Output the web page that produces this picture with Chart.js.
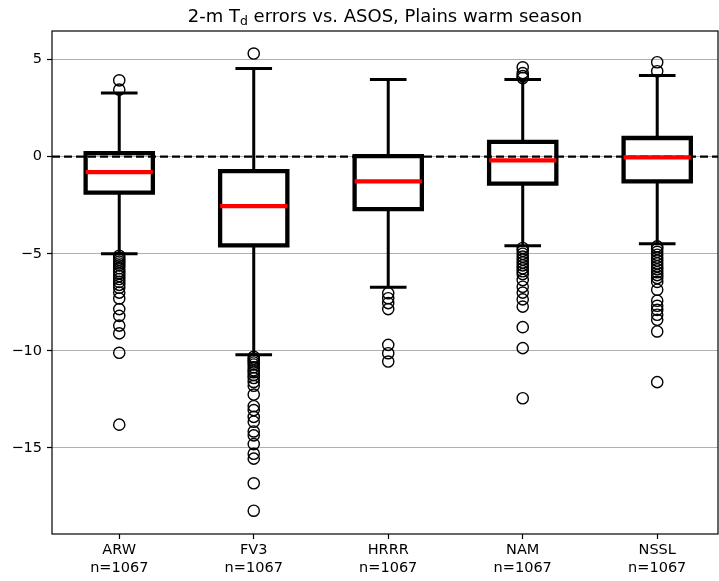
<!DOCTYPE html>
<html>
<head>
<meta charset="utf-8">
<script src="https://cdn.jsdelivr.net/npm/chart.js@4/dist/chart.umd.min.js"></script>
<style>
  html, body { margin: 0; padding: 0; background: #fff; }
  #wrap { position: relative; width: 719px; height: 581px; }
  #title { position: absolute; left: 52px; width: 666px; top: 6px; text-align: center;
           font-family: "DejaVu Sans", sans-serif; font-size: 18px; color: #000; line-height: 20px; }
  #title sub { font-size: 12.5px; vertical-align: -3px; line-height: 0; }
  canvas { position: absolute; left: 0; top: 0; }
</style>
</head>
<body>
<div id="wrap">
  <canvas id="c" width="719" height="581"></canvas>
  <div id="title">2-m T<sub>d</sub> errors vs. ASOS, Plains warm season</div>
</div>
<script>
// ---- data ----
const categories = ['ARW', 'FV3', 'HRRR', 'NAM', 'NSSL'];
const counts = [1067, 1067, 1067, 1067, 1067];
const q1 = [-1.85, -4.57, -2.70, -1.39, -1.27];
const medians = [-0.80, -2.55, -1.27, -0.19, -0.04];
const q3 = [0.18, -0.75, 0.03, 0.76, 0.96];
const whiskerLow = [-5.00, -10.20, -6.72, -4.59, -4.48];
const whiskerHigh = [3.28, 4.54, 3.97, 3.97, 4.18];
const outliersARW = [3.45, 3.93, -5.1, -5.2, -5.3, -5.4, -5.5, -5.6, -5.75, -5.9, -6.0, -6.15, -6.3, -6.45, -6.6, -6.75, -7.0, -7.3, -7.85, -8.2, -8.7, -9.1, -10.1, -13.8];
const outliersFV3 = [5.31, -10.3, -10.4, -10.5, -10.6, -10.7, -10.85, -11.0, -11.1, -11.25, -11.4, -11.6, -11.8, -12.25, -12.85, -13.05, -13.4, -13.65, -14.15, -14.35, -14.8, -15.3, -15.55, -16.82, -18.23];
const outliersHRRR = [-7.03, -7.29, -7.54, -7.85, -9.69, -10.12, -10.55];
const outliersNAM = [4.05, 4.15, 4.3, 4.6, -4.7, -4.85, -5.0, -5.15, -5.3, -5.45, -5.6, -5.75, -5.9, -6.05, -6.35, -6.7, -7.0, -7.35, -7.72, -8.78, -9.86, -12.44];
const outliersNSSL = [4.4, 4.86, -4.62, -4.75, -4.9, -5.05, -5.2, -5.35, -5.5, -5.65, -5.8, -5.95, -6.1, -6.25, -6.45, -6.85, -7.42, -7.68, -7.89, -8.14, -8.4, -9.0, -11.61];
const outliers = [outliersARW, outliersFV3, outliersHRRR, outliersNAM, outliersNSSL];
const yTicks = [-15, -10, -5, 0, 5];
const refLine = 0;

// ---- styles / geometry ----
const BOX_HALF = 0.25, CAP_HALF = 0.125;
const X_MIN = 0.5, X_MAX = 5.452, Y_MIN = -19.43, Y_MAX = 6.47;
const FONT = { family: 'DejaVu Sans', size: 14.5 };

const positions = categories.map((_, i) => i + 1);

const boxPts = [], medPts = [], whiskPts = [], capPts = [], outPts = [];
positions.forEach((p, i) => {
  boxPts.push({x: p - BOX_HALF, y: q1[i]}, {x: p + BOX_HALF, y: q1[i]}, {x: p + BOX_HALF, y: q3[i]},
              {x: p - BOX_HALF, y: q3[i]}, {x: p - BOX_HALF, y: q1[i]}, {x: p, y: null});
  medPts.push({x: p - BOX_HALF, y: medians[i]}, {x: p + BOX_HALF, y: medians[i]}, {x: p, y: null});
  whiskPts.push({x: p, y: q3[i]}, {x: p, y: whiskerHigh[i]}, {x: p + 0.001, y: null},
                {x: p, y: q1[i]}, {x: p, y: whiskerLow[i]}, {x: p + 0.002, y: null});
  capPts.push({x: p - CAP_HALF, y: whiskerHigh[i]}, {x: p + CAP_HALF, y: whiskerHigh[i]}, {x: p, y: null},
              {x: p - CAP_HALF, y: whiskerLow[i]}, {x: p + CAP_HALF, y: whiskerLow[i]}, {x: p, y: null});
  outliers[i].forEach(v => outPts.push({x: p, y: v}));
});

const lineDs = (data, color, width, order, extra) => Object.assign({
  type: 'scatter', data, showLine: true, borderColor: color, borderWidth: width,
  pointRadius: 0, pointHoverRadius: 0, spanGaps: false, order,
  borderCapStyle: 'square', borderJoinStyle: 'miter', tension: 0, fill: false
}, extra || {});

const framePlugin = {
  id: 'frame',
  afterDatasetsDraw(chart) {
    const {ctx, chartArea: a} = chart;
    ctx.save();
    ctx.strokeStyle = '#000';
    ctx.lineWidth = 1.2;
    ctx.strokeRect(a.left, a.top, a.right - a.left, a.bottom - a.top);
    ctx.restore();
  }
};

const zeroPad = s => { s.paddingLeft = 0; s.paddingRight = 0; s.paddingTop = 0; s.paddingBottom = 0; };

new Chart(document.getElementById('c'), {
  type: 'scatter',
  data: {
    datasets: [
      {
        type: 'scatter', data: outPts, order: 0,
        pointStyle: 'circle', pointRadius: 5.6, pointHoverRadius: 5.6,
        borderColor: '#000', borderWidth: 1.4, backgroundColor: 'rgba(0,0,0,0)'
      },
      lineDs(medPts, '#ff0000', 4.3, 1, {borderCapStyle: 'butt'}),
      lineDs([{x: X_MIN, y: refLine}, {x: X_MAX, y: refLine}], '#000', 2.2, 2,
             {borderDash: [8, 4], borderCapStyle: 'butt'}),
      lineDs(boxPts, '#000', 4.3, 3),
      lineDs(capPts, '#000', 3, 4),
      lineDs(whiskPts, '#000', 3, 5, {borderCapStyle: 'butt'})
    ]
  },
  options: {
    responsive: false,
    animation: false,
    events: [],
    layout: { autoPadding: false, padding: { top: 31, right: 1, left: 0, bottom: 0 } },
    plugins: { legend: { display: false }, tooltip: { enabled: false }, title: { display: false } },
    scales: {
      x: {
        type: 'linear', min: X_MIN, max: X_MAX,
        afterBuildTicks: s => { s.ticks = positions.map(v => ({value: v})); },
        afterFit: s => { s.height = 47; zeroPad(s); },
        ticks: {
          color: '#000', font: FONT, padding: 3, maxRotation: 0, autoSkip: false,
          callback: (v) => { const i = positions.indexOf(v); return i < 0 ? '' : [categories[i], 'n=' + counts[i]]; }
        },
        grid: { drawOnChartArea: false, drawTicks: true, tickLength: 5, tickColor: '#000', tickWidth: 1.2 },
        border: { display: false }
      },
      y: {
        type: 'linear', min: Y_MIN, max: Y_MAX,
        afterBuildTicks: s => { s.ticks = yTicks.map(v => ({value: v})); },
        afterFit: s => { s.width = 52; zeroPad(s); },
        ticks: {
          color: '#000', font: FONT, padding: 5,
          callback: v => (v < 0 ? '\u2212' + Math.abs(v) : String(v))
        },
        grid: { color: '#b0b0b0', lineWidth: 1, drawTicks: true, tickLength: 5, tickColor: '#000', tickWidth: 1.2 },
        border: { display: false }
      }
    }
  },
  plugins: [framePlugin]
});
</script>
</body>
</html>
